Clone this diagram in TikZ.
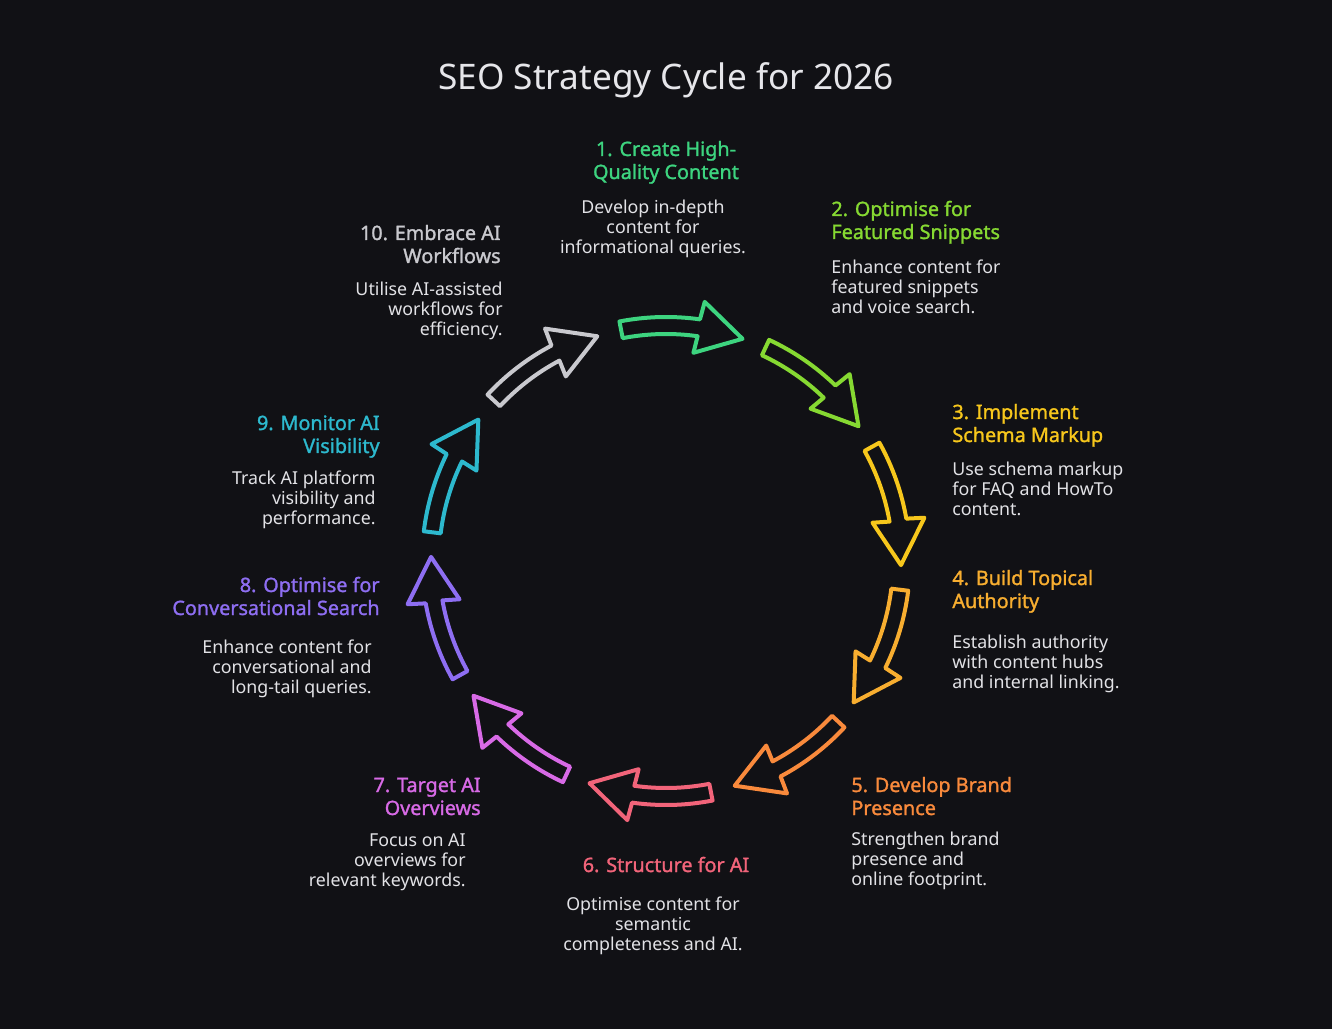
\documentclass[tikz,border=0pt]{standalone}
\usepackage{fontspec}
\setmainfont{Noto Sans}
\newfontfamily\lblfont{Noto Sans}[FakeBold=1.4]
\usetikzlibrary{calc}
\definecolor{bg}{HTML}{111115}
\definecolor{txt}{HTML}{E2E2E6}
\definecolor{ttl}{HTML}{E6E6EA}
\definecolor{ca}{HTML}{3DD47F}
\definecolor{cb}{HTML}{86D932}
\definecolor{cc}{HTML}{F7C71C}
\definecolor{cd}{HTML}{F8AE30}
\definecolor{ce}{HTML}{F98A3C}
\definecolor{cf}{HTML}{F2647A}
\definecolor{cg}{HTML}{D86AE6}
\definecolor{ch}{HTML}{8E6EF2}
\definecolor{ci}{HTML}{2DB9CE}
\definecolor{cj}{HTML}{C9C9CE}
\tikzset{
  arrowline/.style={line width=2pt, line join=round, fill=bg},
  lbl/.style={inner sep=0pt, font=\lblfont\fontsize{9.9pt}{11.5pt}\selectfont},
  dsc/.style={inner sep=0pt, text=txt, font=\fontsize{8.9pt}{10pt}\selectfont},
}
\begin{document}
\begin{tikzpicture}[x=0.5pt,y=0.5pt]
\fill[bg] (0,0) rectangle (1332,1029);
\useasboundingbox (0,0) rectangle (1332,1029);
\coordinate (ctr) at (666,468);
\node[inner sep=0pt, text=ttl, font=\fontsize{17.6pt}{20pt}\selectfont, anchor=base] (title) at (666,939) {SEO Strategy Cycle for 2026};

\foreach \k/\col in {0/ca,1/cb,2/cc,3/cd,4/ce,5/cf,6/cg,7/ch,8/ci,9/cj}{
  \pgfmathsetmacro\th{-36*\k}
  \draw[arrowline, draw=\col]
    ([shift={(\th+101:244)}]ctr) arc[start angle=\th+101, end angle=\th+82, radius=244]
    -- ([shift={(\th+81.5:262)}]ctr)
    -- ([shift={(\th+71:235)}]ctr)
    -- ([shift={(\th+82.5:210)}]ctr)
    -- ([shift={(\th+82:227)}]ctr)
    arc[start angle=\th+82, end angle=\th+101, radius=227] -- cycle;
}

% anchors are at the baseline of the last line
% 1
\node[lbl, text=ca, align=center, anchor=base] (l1) at (666,850) {1. Create High-\\Quality Content};
\node[dsc, align=center, anchor=base] (d1) at (653,775) {Develop in-depth\\content for\\informational queries.};
% 2
\node[lbl, text=cb, align=left, anchor=base west] (l2) at (831,790) {2. Optimise for\\Featured Snippets};
\node[dsc, align=left, anchor=base west] (d2) at (831,715) {Enhance content for\\featured snippets\\and voice search.};
% 3
\node[lbl, text=cc, align=left, anchor=base west] (l3) at (952,587) {3. Implement\\Schema Markup};
\node[dsc, align=left, anchor=base west] (d3) at (952,513) {Use schema markup\\for FAQ and HowTo\\content.};
% 4
\node[lbl, text=cd, align=left, anchor=base west] (l4) at (952,421) {4. Build Topical\\Authority};
\node[dsc, align=left, anchor=base west] (d4) at (952,341) {Establish authority\\with content hubs\\and internal linking.};
% 5
\node[lbl, text=ce, align=left, anchor=base west] (l5) at (851,214) {5. Develop Brand\\Presence};
\node[dsc, align=left, anchor=base west] (d5) at (851,144) {Strengthen brand\\presence and\\online footprint.};
% 6
\node[lbl, text=cf, align=center, anchor=base] (l6) at (666,157) {6. Structure for AI};
\node[dsc, align=center, anchor=base] (d6) at (653,79) {Optimise content for\\semantic\\completeness and AI.};
% 7
\node[lbl, text=cg, align=right, anchor=base east] (l7) at (481,214) {7. Target AI\\Overviews};
\node[dsc, align=right, anchor=base east] (d7) at (466,143) {Focus on AI\\overviews for\\relevant keywords.};
% 8
\node[lbl, text=ch, align=right, anchor=base east] (l8) at (380,414) {8. Optimise for\\Conversational Search};
\node[dsc, align=right, anchor=base east] (d8) at (372,336) {Enhance content for\\conversational and\\long-tail queries.};
% 9
\node[lbl, text=ci, align=right, anchor=base east] (l9) at (380,576) {9. Monitor AI\\Visibility};
\node[dsc, align=right, anchor=base east] (d9) at (376,504) {Track AI platform\\visibility and\\performance.};
% 10
\node[lbl, text=cj, align=right, anchor=base east] (l10) at (501,766) {10. Embrace AI\\Workflows};
\node[dsc, align=right, anchor=base east] (d10) at (503,693) {Utilise AI-assisted\\workflows for\\efficiency.};
\end{tikzpicture}
\end{document}
